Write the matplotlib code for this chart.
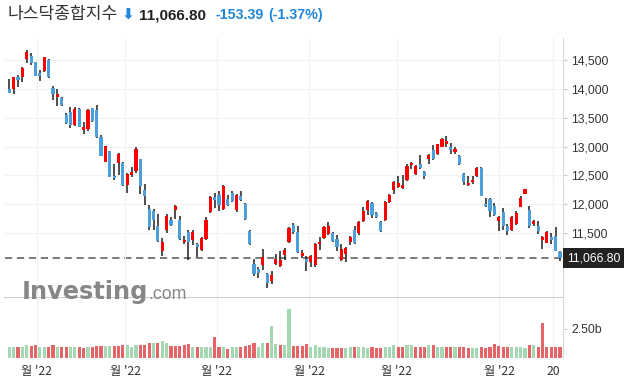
import matplotlib.pyplot as plt
import numpy as np
from matplotlib.transforms import blended_transform_factory

# daily candles, 23 Mar - 22 Sep 2022
opens = [13998, 14004, 14206, 14200, 14511, 14569, 14465, 14275, 14309, 14500,
         14015, 13865, 13836, 13542, 13600, 13375, 13652, 13288, 13311, 13663,
         13629, 13161, 12740, 12919, 12492, 12711, 12717, 12325, 12498, 12567,
         12786, 12244, 11921, 11886, 11626, 11182, 11546, 11719, 11892, 11719,
         11338, 11522, 11378, 11315, 11205, 11396, 11857, 12128, 12163, 11921,
         12088, 12192, 11904, 12146, 12007, 11540, 10963, 10882, 10952, 10796,
         10675, 10963, 10923, 11113, 11338, 11644, 11517, 11107, 11044, 10992,
         10940, 11303, 11407, 11488, 11505, 11402, 11038, 11130, 11344, 11557,
         11494, 11702, 11904, 12019, 11840, 11696, 11731, 12031, 12238, 12302,
         12273, 12423, 12671, 12527, 12700, 12561, 12792, 12942, 12867, 13000,
         13046, 12983, 12913, 12838, 12527, 12325, 12377, 12492, 12631, 12008,
         12088, 11973, 11702, 11863, 11627, 11546, 11661, 11950, 12175, 11904,
         11661, 11627, 11384, 11327, 11436, 11453, 11171]
highs = [14165, 14206, 14240, 14373, 14673, 14615, 14465, 14321, 14558, 14517,
         14044, 13992, 13865, 13588, 13680, 13680, 13663, 13427, 13646, 13675,
         13715, 13207, 13011, 12925, 12694, 12884, 12734, 12538, 12642, 13000,
         12790, 12348, 11978, 11915, 11823, 11407, 11823, 11776, 11978, 11800,
         11442, 11557, 11546, 11332, 11430, 11776, 12134, 12192, 12221, 12330,
         12163, 12227, 12175, 12227, 12013, 11557, 11050, 10917, 11223, 10807,
         10836, 11136, 11182, 11234, 11604, 11667, 11615, 11211, 11102, 11125,
         11321, 11425, 11627, 11684, 11517, 11459, 11315, 11252, 11441, 11627,
         11713, 11944, 12065, 12036, 11863, 11702, 12048, 12175, 12406, 12492,
         12498, 12694, 12729, 12683, 12856, 12579, 12862, 13029, 13052, 13144,
         13179, 13058, 12994, 12856, 12538, 12486, 12492, 12642, 12642, 12106,
         12106, 12019, 11788, 11933, 11655, 11800, 11886, 12134, 12267, 11961,
         11731, 11702, 11441, 11529, 11494, 11609, 11182]
lows = [13934, 13905, 14032, 14113, 14442, 14407, 14229, 14142, 14298, 14183,
        13802, 13698, 13698, 13398, 13317, 13363, 13334, 13225, 13277, 13433,
        13144, 12832, 12723, 12474, 12423, 12498, 12307, 12192, 12463, 12538,
        12174, 11984, 11557, 11546, 11338, 11095, 11499, 11615, 11748, 11372,
        11309, 11026, 11292, 11084, 11182, 11384, 11846, 11932, 11886, 11904,
        11973, 12031, 11869, 12048, 11730, 11298, 10750, 10721, 10865, 10542,
        10617, 10952, 10917, 11027, 11321, 11488, 11154, 11067, 10836, 10911,
        10911, 11211, 11396, 11459, 11338, 11182, 11009, 10998, 11298, 11309,
        11459, 11684, 11817, 11759, 11765, 11511, 11702, 12019, 12181, 12279,
        12267, 12406, 12613, 12509, 12613, 12435, 12694, 12758, 12856, 12983,
        12983, 12867, 12867, 12671, 12336, 12319, 12348, 12469, 12134, 11955,
        11771, 11788, 11529, 11557, 11459, 11540, 11644, 11944, 12169, 11586,
        11615, 11482, 11229, 11321, 11309, 11194, 11009]
closes = [13934, 14206, 14159, 14361, 14632, 14454, 14229, 14229, 14546, 14211,
          13905, 13911, 13721, 13415, 13380, 13646, 13346, 13334, 13634, 13450,
          13167, 12844, 13005, 12480, 12451, 12873, 12325, 12527, 12561, 12959,
          12307, 12134, 11603, 11719, 11355, 11349, 11800, 11644, 11973, 11401,
          11384, 11338, 11522, 11257, 11419, 11730, 12123, 12065, 11984, 12319,
          11990, 12048, 12163, 12077, 11736, 11315, 10790, 10802, 11084, 10634,
          10779, 11050, 11038, 11211, 11592, 11511, 11165, 11159, 10992, 11102,
          11315, 11350, 11604, 11627, 11356, 11252, 11229, 11246, 11436, 11332,
          11696, 11886, 12059, 11817, 11771, 11540, 12031, 12163, 12388, 12365,
          12336, 12665, 12717, 12660, 12636, 12481, 12856, 12781, 13040, 13133,
          13098, 12931, 12960, 12700, 12377, 12371, 12423, 12625, 12134, 11961,
          11875, 11806, 11777, 11615, 11529, 11782, 11846, 12106, 12261, 11615,
          11713, 11540, 11436, 11517, 11384, 11194, 11066.80]

# volume in billions, with the bar colour (g = up, r = down)
volumes = [0.98, 0.92, 0.92, 0.92, 1.09, 1.03, 1.09, 0.98, 0.92, 0.92,
           1.09, 0.92, 0.92, 0.98, 0.92, 0.92, 0.92, 0.83, 0.92, 0.98,
           1.03, 1.03, 1.03, 1.03, 1.03, 1.03, 1.09, 1.09, 0.92, 1.09,
           1.09, 1.09, 1.26, 1.26, 1.26, 1.43, 1.26, 1.03, 1.03, 1.03,
           1.09, 1.17, 0.92, 0.92, 0.92, 0.92, 0.98, 1.78, 0.92, 0.92,
           0.80, 0.92, 0.92, 0.92, 1.03, 1.09, 1.26, 0.92, 1.26, 1.26,
           2.76, 1.17, 1.09, 1.09, 4.20, 1.03, 1.03, 1.03, 1.17, 0.92,
           1.09, 0.92, 0.92, 0.83, 0.83, 0.83, 0.83, 0.83, 0.98, 0.92,
           0.98, 0.98, 0.83, 0.92, 0.83, 0.83, 0.92, 0.98, 1.09, 0.92,
           0.92, 1.09, 1.09, 0.98, 0.98, 0.98, 1.09, 1.09, 0.92, 0.92,
           0.98, 0.98, 0.92, 0.98, 0.92, 0.83, 0.83, 0.83, 0.98, 0.83,
           0.92, 1.17, 1.03, 0.92, 0.98, 0.92, 0.92, 0.92, 0.83, 1.09,
           1.09, 0.98, 2.99, 0.92, 0.92, 0.92, 0.92]
vol_dir = ("ggrggrrggrrgrrggrrgrrrggrrrgggrrrgrggrrrrrgrgggrrgrggrrrrggrg"
           "grggrrrrgggggrrrggrgggrrrgggrrgg" "rrrgrggrrgrrrggrrrrrrrggggrgrrrrrr")

price_ticks = [11500, 12000, 12500, 13000, 13500, 14000, 14500]
month_labels = ["월 '22", "월 '22", "월 '22", "월 '22", "월 '22", "월 '22", "20"]
month_pos = [6.3, 26.5, 47.5, 68.6, 88.7, 112.1, 124.4]

last_close = closes[-1]
change = -153.39
change_pct = -1.37

UP = "#ff0000"
DOWN = "#4d9fdc"
VOL_UP = "#a4d8b3"
VOL_DOWN = "#e36568"
CJK = ["Noto Sans CJK KR", "DejaVu Sans"]

o = np.array(opens, dtype=float)
h = np.array(highs, dtype=float)
l = np.array(lows, dtype=float)
c = np.array(closes, dtype=float)
x = np.arange(len(c))
up = c >= o

fig = plt.figure(figsize=(6.29, 3.84), dpi=100)
W, H = 629, 384
ax = fig.add_axes([5 / W, 1 - 298 / H, 558 / W, 260 / H])
axv = fig.add_axes([5 / W, 1 - 358 / H, 558 / W, 60 / H], sharex=ax)

# candles
ax.vlines(x, l, h, color="#1e1e1e", lw=1.1, zorder=2)
body_lo = np.minimum(o, c)
body_h = np.maximum(np.abs(c - o), 14)
ax.bar(x, body_h, bottom=body_lo, width=0.72,
       color=np.where(up, UP, DOWN), lw=0, zorder=3)

ax.set_xlim(-0.98, 126.7)
ax.set_ylim(10375, 14880)
ax.axhline(last_close, color="#6f6f6f", lw=1.3, ls=(0, (4, 2.6)), zorder=1)

ax.yaxis.tick_right()
ax.set_yticks(price_ticks)
ax.set_yticklabels([f"{v:,}" for v in price_ticks])
ax.tick_params(axis="y", length=3, color="#cccccc", labelsize=8.8,
               labelcolor="#333333", pad=3)
for lab in ax.get_yticklabels():
    lab.set_family("Liberation Sans")
ax.set_xticks(month_pos)
ax.tick_params(axis="x", length=0, labelbottom=False)
ax.grid(True, color="#f2f2f2", lw=0.9, zorder=0)
for s in ["left", "top"]:
    ax.spines[s].set_visible(False)
ax.spines["right"].set_color("#d9d9d9")
ax.spines["bottom"].set_color("#c8c8c8")
ax.spines["bottom"].set_linewidth(1.3)

# last price tag
tr = blended_transform_factory(ax.transAxes, ax.transData)
ax.text(1 + 4 / 558, last_close, f"{last_close:,.2f}", transform=tr,
        ha="left", va="center", color="white", fontsize=8.8,
        family="Liberation Sans",
        bbox=dict(boxstyle="square,pad=0.32", fc="#222222", ec="none"),
        clip_on=False, zorder=5)

# volume
vcol = [VOL_UP if d == "g" else VOL_DOWN for d in vol_dir]
axv.bar(x, volumes, width=0.72, color=vcol, lw=0, zorder=2)
axv.set_ylim(0, 5.17)
axv.yaxis.tick_right()
axv.set_yticks([2.5])
axv.set_yticklabels(["2.50b"])
axv.tick_params(axis="y", length=3, color="#cccccc", labelsize=8.8,
                labelcolor="#333333", pad=3)
for lab in axv.get_yticklabels():
    lab.set_family("Liberation Sans")
axv.set_xticks(month_pos)
axv.set_xticklabels(month_labels)
axv.tick_params(axis="x", length=0, pad=5, labelsize=8.8, labelcolor="#333333")
for lab in axv.get_xticklabels():
    lab.set_family(CJK)
axv.grid(True, axis="x", color="#f2f2f2", lw=0.9, zorder=0)
for s in ["left", "top", "bottom"]:
    axv.spines[s].set_visible(False)
axv.spines["right"].set_color("#d9d9d9")

# header
fig.text(8 / W, 1 - 14 / H, "나스닥종합지수", family=CJK, fontsize=12.3,
         color="#333333", ha="left", va="center")
fig.text(122 / W, 1 - 15 / H, "⬇", family=["DejaVu Sans"], fontsize=11,
         weight="bold", color="#1f86dc", ha="left", va="center")
fig.text(139 / W, 1 - 15 / H, f"{last_close:,.2f}", family="Liberation Sans",
         fontsize=11, weight="bold", color="#222222", ha="left", va="center")
fig.text(215 / W, 1 - 15 / H, f"{change:.2f}", family="Liberation Sans",
         fontsize=10.3, weight="bold", color="#1f86dc", ha="left", va="center")
fig.text(268 / W, 1 - 15 / H, f"({change_pct:.2f}%)", family="Liberation Sans",
         fontsize=10.3, weight="bold", color="#1f86dc", ha="left", va="center")

# watermark
wm = fig.text(22 / W, 1 - 299 / H, "Investing", family="DejaVu Sans",
              fontsize=17.3, weight="bold", color="#878787", ha="left",
              va="baseline", zorder=6)
fig.canvas.draw()
bb = wm.get_window_extent()
fig.text(bb.x1 / W, 1 - 299 / H, ".com", family="Liberation Sans",
         fontsize=12.8, color="#878787", ha="left", va="baseline", zorder=6)

fig.savefig("out.png", dpi=100)
